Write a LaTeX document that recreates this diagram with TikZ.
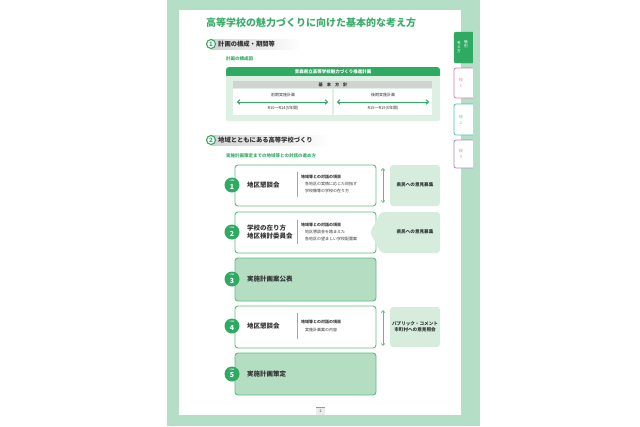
\documentclass[tikz,border=0pt]{standalone}
\usepackage{fontspec}
\setmainfont{Noto Sans CJK JP}
\usetikzlibrary{arrows.meta}
\definecolor{pagegreen}{HTML}{B4DEC5}
\definecolor{dkgreen}{HTML}{2EAA62}
\definecolor{titlegreen}{HTML}{3AAE6A}
\definecolor{boxgreen}{HTML}{5DBB84}
\definecolor{fillgreen}{HTML}{B5DDC2}
\definecolor{ltgreen}{HTML}{D6EDDD}
\definecolor{contgreen}{HTML}{DDF0E3}
\definecolor{barGray}{HTML}{D2D2D2}
\definecolor{txt}{HTML}{333333}
\definecolor{tabpink}{HTML}{E07AAE}
\definecolor{tabteal}{HTML}{4CC3B8}
\definecolor{tabpurple}{HTML}{A98BB8}
\begin{document}
\begin{tikzpicture}[x=1pt,y=-1pt,
  stepbox/.style={draw=boxgreen,line width=0.9pt,fill=white,rounded corners=3pt},
  stepfill/.style={draw=boxgreen,line width=0.9pt,fill=fillgreen,rounded corners=3pt},
  sidebox/.style={fill=ltgreen,rounded corners=3pt},
  stepcirc/.style={circle,fill=dkgreen,minimum size=15pt,inner sep=0pt},
  steplbl/.style={text=white,font=\fontsize{1.8}{2}\selectfont\bfseries,inner sep=0pt},
  stepnum/.style={text=white,font=\fontsize{7}{7}\selectfont\bfseries,inner sep=0pt},
  steptitle/.style={anchor=west,text=txt,font=\fontsize{6.5}{8.5}\selectfont\bfseries,inner sep=0pt,align=left},
  itemhead/.style={anchor=west,text=txt,font=\fontsize{4}{5}\selectfont\bfseries,inner sep=0pt},
  itemtxt/.style={anchor=west,text=txt,font=\fontsize{4}{5}\selectfont,inner sep=0pt},
  sidetxt/.style={text=txt,font=\fontsize{4.6}{6.2}\selectfont\bfseries,inner sep=0pt,align=center},
  sepline/.style={draw=gray!70,line width=0.8pt},
  varrow/.style={draw=boxgreen,line width=0.7pt,{Straight Barb[length=2pt,width=3.5pt]}-{Straight Barb[length=2pt,width=3.5pt]}},
  harrow/.style={draw=dkgreen,line width=1pt,{Straight Barb[length=2.2pt,width=4.5pt]}-{Straight Barb[length=2.2pt,width=4.5pt]}},
  seccirc/.style={circle,draw=dkgreen,line width=1.1pt,fill=white,minimum size=9pt,inner sep=0pt,text=dkgreen,font=\fontsize{6}{6}\selectfont\bfseries},
  sectitle/.style={anchor=west,text=txt,font=\fontsize{6.3}{7}\selectfont\bfseries,inner sep=0pt},
  subtitle/.style={anchor=west,text=titlegreen,font=\fontsize{4.5}{5}\selectfont\bfseries,inner sep=0pt},
  small/.style={text=txt,font=\fontsize{4}{5}\selectfont,inner sep=0pt},
  tabtxt/.style={font=\fontsize{3.8}{4.4}\selectfont,inner sep=0pt,align=center}
]
\useasboundingbox (0,0) rectangle (640,426);
\fill[white] (0,0) rectangle (640,426);
% page
\fill[pagegreen] (167,0) rectangle (473,426);
\fill[white] (179,10) rectangle (461,415);

% side tabs
\filldraw[fill=dkgreen,draw=dkgreen,rounded corners=2pt] (475,32) -- (454,32) -- (454,63) -- (475,63);
\node[tabtxt,text=white] (tab0a) at (459,47) {考\\え\\方};
\node[tabtxt,text=white] (tab0b) at (466,44) {魅\\別};
\filldraw[fill=white,draw=tabpink,line width=0.8pt,rounded corners=2pt] (475,68) -- (454,68) -- (454,98) -- (475,98);
\node[tabtxt,text=tabpink] (tab1) at (461,83) {校\\[2pt]1};
\filldraw[fill=white,draw=tabteal,line width=0.8pt,rounded corners=2pt] (475,104) -- (454,104) -- (454,135) -- (475,135);
\node[tabtxt,text=tabteal] (tab2) at (461,120) {校\\[2pt]2};
\filldraw[fill=white,draw=tabpurple,line width=0.8pt,rounded corners=2pt] (475,140) -- (454,140) -- (454,168) -- (475,168);
\node[tabtxt,text=tabpurple] (tab3) at (461,154) {校\\[2pt]3};
\fill[pagegreen] (473,0) rectangle (480,426);

% title
\node[anchor=west,text=titlegreen,font=\fontsize{10}{12}\selectfont\bfseries,inner sep=0pt] (title) at (206,23) {高等学校の魅力づくりに向けた基本的な考え方};

% section 1
\shade[left color=gray!35,right color=white] (211,39) rectangle (300,49);
\node[seccirc] (s1) at (211,44) {1};
\node[sectitle] (s1t) at (218,44) {計画の構成・期間等};
\node[subtitle] (s1s) at (226,59) {計画の構成図};

% plan chart
\fill[dkgreen,rounded corners=3pt] (226,67) rectangle (440,78);
\fill[contgreen,rounded corners=2pt] (226,80) rectangle (440,121);
\fill[contgreen] (226,76) rectangle (440,82);
\node[text=white,font=\fontsize{4.5}{5}\selectfont\bfseries,inner sep=0pt] (plan) at (333,72) {青森県立高等学校魅力づくり推進計画};
\fill[barGray] (233,81) rectangle (432,88);
\node[text=txt,font=\fontsize{4.2}{5}\selectfont\bfseries,inner sep=0pt] (kihon) at (333,84.5) {基\hspace{4pt}本\hspace{4pt}方\hspace{4pt}針};
\fill[white] (233,89) rectangle (332,115);
\fill[white] (334,89) rectangle (432,115);
\node[small] (zenki) at (283,95) {前期実施計画};
\coordinate (za) at (237,102);
\coordinate (zb) at (328,102);
\draw[harrow] (za) -- (zb);
\node[small] (zenkiy) at (283,108) {R10～R14(5年間)};
\node[small] (kouki) at (383,95) {後期実施計画};
\coordinate (ka) at (337,102);
\coordinate (kb) at (429,102);
\draw[harrow] (ka) -- (kb);
\node[small] (koukiy) at (383,108) {R15～R19(5年間)};

% section 2
\shade[left color=gray!35,right color=white] (211,135) rectangle (330,145);
\node[seccirc] (s2) at (211,140) {2};
\node[sectitle] (s2t) at (218,140) {地域とともにある高等学校づくり};
\node[subtitle] (s2s) at (226,156) {実施計画策定までの地域等との対話の進め方};

% step 1
\draw[stepbox] (235,165) rectangle (376,206);
\node[stepcirc] (c1) at (232,185) {};
\node[steplbl] (c1l) at (232,180.5) {STEP};
\node[stepnum] (c1n) at (232,186.5) {1};
\node[steptitle] (t1) at (247,185) {地区懇談会};
\draw[sepline] (297,172) -- (297,197);
\node[itemhead] (i1a) at (301,177) {地域等との対話の項目};
\node[itemtxt] (i1b) at (305,184) {各地区の実情に応じた目指す};
\node[itemtxt] (i1c) at (305,190.5) {学校像等の学校の在り方};
\coordinate (a1t) at (383,168);
\coordinate (a1b) at (383,203);
\draw[varrow] (a1t) -- (a1b);
\fill[sidebox] (390,165) rectangle (440,206);
\node[sidetxt] (r1) at (415,185) {県民への意見募集};

% step 2
\draw[stepbox] (235,212) rectangle (376,253);
\node[stepcirc] (c2) at (232,232) {};
\node[steplbl] (c2l) at (232,227.5) {STEP};
\node[stepnum] (c2n) at (232,233.5) {2};
\node[steptitle] (t2) at (247,232) {学校の在り方\\地区検討委員会};
\draw[sepline] (297,220) -- (297,244);
\node[itemhead] (i2a) at (301,225) {地域等との対話の項目};
\node[itemtxt] (i2b) at (305,232) {地区懇談会を踏まえた};
\node[itemtxt] (i2c) at (305,238.5) {各地区の望ましい学校配置案};
\fill[ltgreen,rounded corners=3pt] (381,212) -- (440,212) -- (440,253) -- (381,253) -- (370,232.5) -- cycle;
\node[sidetxt] (r2) at (415,232) {県民への意見募集};

% step 3
\draw[stepfill] (235,258) rectangle (376,301);
\node[stepcirc] (c3) at (232,279) {};
\node[steplbl] (c3l) at (232,274.5) {STEP};
\node[stepnum] (c3n) at (232,280.5) {3};
\node[steptitle] (t3) at (247,279) {実施計画案公表};

% step 4
\draw[stepbox] (235,306) rectangle (376,348);
\node[stepcirc] (c4) at (232,326) {};
\node[steplbl] (c4l) at (232,321.5) {STEP};
\node[stepnum] (c4n) at (232,327.5) {4};
\node[steptitle] (t4) at (247,326) {地区懇談会};
\draw[sepline] (297,313) -- (297,339);
\node[itemhead] (i4a) at (301,322) {地域等との対話の項目};
\node[itemtxt] (i4b) at (305,329.5) {実施計画案の内容};
\coordinate (a4t) at (383,310);
\coordinate (a4b) at (383,346);
\draw[varrow] (a4t) -- (a4b);
\fill[sidebox] (390,307) rectangle (440,347);
\node[sidetxt] (r4) at (415,327) {パブリック・コメント\\市町村への意見照会};

% step 5
\draw[stepfill] (235,353) rectangle (376,395);
\node[stepcirc] (c5) at (232,374) {};
\node[steplbl] (c5l) at (232,369.5) {STEP};
\node[stepnum] (c5n) at (232,375.5) {5};
\node[steptitle] (t5) at (247,374) {実施計画策定};

% page number
\fill[gray!15] (316,407) rectangle (325,415);
\draw[boxgreen,line width=0.6pt] (316,407) -- (325,407);
\node[text=txt,font=\fontsize{3.5}{4}\selectfont,inner sep=0pt] (pn) at (320.5,411.5) {2};
\end{tikzpicture}
\end{document}
